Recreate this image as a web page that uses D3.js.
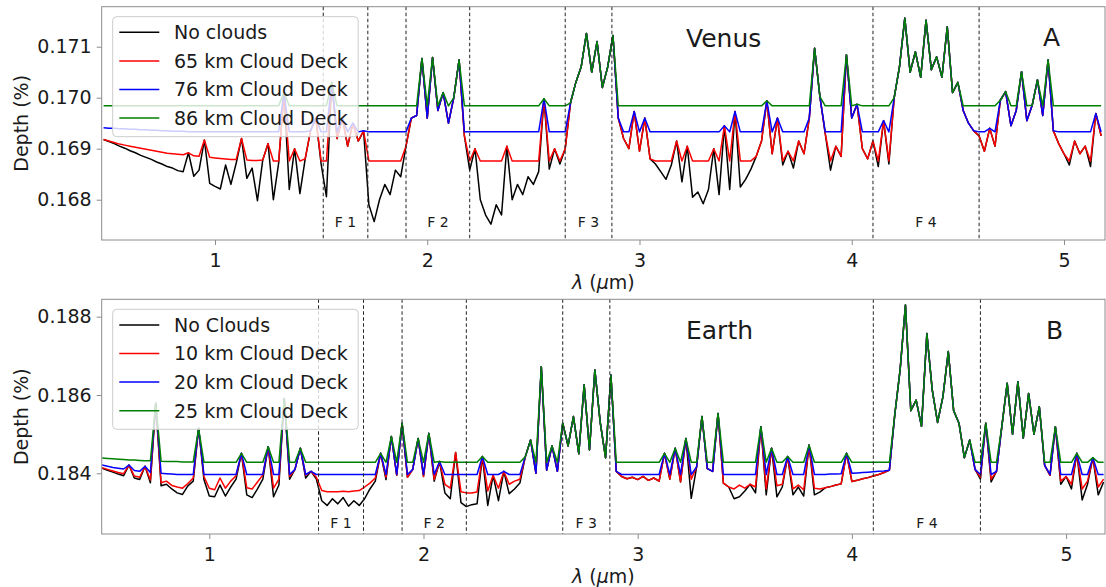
<!DOCTYPE html>
<html>
<head>
<meta charset="utf-8">
<script src="https://cdn.jsdelivr.net/npm/d3@7"></script>
<style>
body { margin: 0; background: #fff; }
svg text { font-family: "DejaVu Sans", sans-serif; fill: #1a1a1a; }
</style>
</head>
<body>
<svg width="1106" height="587"></svg>
<script>
// wavelength sampling of the spectra (micron)
var venusStart = 0.475, earthStart = 0.5, waveStep = 0.025;

// feature bands F1..F4 (micron)
var featureBands = [[1.51, 1.72], [1.9, 2.2], [2.65, 2.87], [4.1, 4.6]];
var featureLabels = ["F 1", "F 2", "F 3", "F 4"];
var xTicks = [1, 2, 3, 4, 5];

// ---- Venus, transit depth (%) ----
var venusLabels = ["No clouds", "65 km Cloud Deck", "76 km Cloud Deck", "86 km Cloud Deck"];
var venusTicks = [0.168, 0.169, 0.170, 0.171];

var venusNoClouds = [
0.16918,0.16914,0.16910,0.16905,0.16901,0.16896,0.16892,0.16887,0.16883,0.16879,
0.16874,0.16870,0.16865,0.16862,0.16857,0.16855,0.16892,0.16846,0.16858,0.16917,
0.16832,0.16826,0.16821,0.16868,0.16830,0.16872,0.16920,0.16842,0.16862,0.16798,
0.16878,0.16910,0.16800,0.16872,0.17010,0.16820,0.16900,0.16812,0.16880,0.16935,
0.16960,0.16870,0.16806,0.17030,0.16920,0.16960,0.16905,0.16950,0.16915,0.16935,
0.16790,0.16757,0.16800,0.16830,0.16810,0.16858,0.16845,0.16905,0.16960,0.16965,
0.17077,0.16960,0.17079,0.16975,0.17010,0.16950,0.17000,0.17074,0.16925,0.16858,
0.16900,0.16800,0.16770,0.16752,0.16790,0.16770,0.16905,0.16800,0.16830,0.16810,
0.16845,0.16830,0.16855,0.16998,0.16860,0.16900,0.16870,0.16900,0.16990,0.17030,
0.17060,0.17126,0.17050,0.17110,0.17020,0.17060,0.17122,0.16960,0.16920,0.16900,
0.16973,0.16895,0.16960,0.16880,0.16870,0.16855,0.16840,0.16868,0.16915,0.16835,
0.16905,0.16805,0.16815,0.16792,0.16820,0.16900,0.16810,0.16945,0.16820,0.16973,
0.16825,0.16840,0.16860,0.16885,0.16915,0.16994,0.16890,0.16960,0.16868,0.16895,
0.16862,0.16915,0.16890,0.16960,0.17097,0.17002,0.16930,0.16858,0.16905,0.16885,
0.17084,0.16960,0.16987,0.16900,0.16880,0.16915,0.16865,0.16955,0.16870,0.17000,
0.17061,0.17156,0.17050,0.17090,0.17040,0.17152,0.17055,0.17080,0.17040,0.17139,
0.17010,0.17030,0.16975,0.16950,0.16935,0.16925,0.16895,0.16940,0.16905,0.16995,
0.17012,0.16945,0.16975,0.17051,0.16955,0.16985,0.17035,0.16965,0.17074,0.16935,
0.16910,0.16890,0.16868,0.16915,0.16890,0.16905,0.16865,0.16969,0.16925
];

var venus65km = [
0.16918,0.16915,0.16912,0.16909,0.16907,0.16905,0.16903,0.16901,0.16899,0.16897,
0.16895,0.16893,0.16891,0.16890,0.16889,0.16888,0.16892,0.16886,0.16885,0.16917,
0.16883,0.16882,0.16881,0.16880,0.16879,0.16879,0.16920,0.16878,0.16877,0.16877,
0.16878,0.16910,0.16876,0.16876,0.17010,0.16876,0.16900,0.16876,0.16880,0.16935,
0.16960,0.16876,0.16876,0.17030,0.16920,0.16960,0.16905,0.16950,0.16915,0.16935,
0.16876,0.16876,0.16876,0.16876,0.16876,0.16876,0.16876,0.16905,0.16960,0.16965,
0.17077,0.16960,0.17079,0.16975,0.17010,0.16950,0.17000,0.17074,0.16925,0.16876,
0.16900,0.16876,0.16876,0.16876,0.16876,0.16876,0.16905,0.16876,0.16876,0.16876,
0.16876,0.16876,0.16876,0.16998,0.16876,0.16900,0.16876,0.16900,0.16990,0.17030,
0.17060,0.17126,0.17050,0.17110,0.17020,0.17060,0.17122,0.16960,0.16920,0.16900,
0.16973,0.16895,0.16960,0.16880,0.16876,0.16876,0.16876,0.16876,0.16915,0.16876,
0.16905,0.16876,0.16876,0.16876,0.16876,0.16900,0.16876,0.16945,0.16876,0.16973,
0.16876,0.16876,0.16876,0.16885,0.16915,0.16994,0.16890,0.16960,0.16876,0.16895,
0.16876,0.16915,0.16890,0.16960,0.17097,0.17002,0.16930,0.16876,0.16905,0.16885,
0.17084,0.16960,0.16987,0.16900,0.16880,0.16915,0.16876,0.16955,0.16876,0.17000,
0.17061,0.17156,0.17050,0.17090,0.17040,0.17152,0.17055,0.17080,0.17040,0.17139,
0.17010,0.17030,0.16975,0.16950,0.16935,0.16925,0.16895,0.16940,0.16905,0.16995,
0.17012,0.16945,0.16975,0.17051,0.16955,0.16985,0.17035,0.16965,0.17074,0.16935,
0.16910,0.16890,0.16876,0.16915,0.16890,0.16905,0.16876,0.16969,0.16925
];

var venus76km = [
0.16941,0.16940,0.16940,0.16939,0.16939,0.16938,0.16938,0.16937,0.16937,0.16936,
0.16936,0.16935,0.16935,0.16934,0.16934,0.16934,0.16933,0.16933,0.16933,0.16933,
0.16933,0.16933,0.16933,0.16933,0.16933,0.16933,0.16933,0.16933,0.16933,0.16933,
0.16933,0.16933,0.16933,0.16933,0.17010,0.16933,0.16933,0.16933,0.16933,0.16935,
0.16960,0.16933,0.16933,0.17030,0.16933,0.16960,0.16933,0.16950,0.16933,0.16935,
0.16933,0.16933,0.16933,0.16933,0.16933,0.16933,0.16933,0.16933,0.16960,0.16965,
0.17077,0.16960,0.17079,0.16975,0.17010,0.16950,0.17000,0.17074,0.16933,0.16933,
0.16933,0.16933,0.16933,0.16933,0.16933,0.16933,0.16933,0.16933,0.16933,0.16933,
0.16933,0.16933,0.16933,0.16998,0.16933,0.16933,0.16933,0.16933,0.16990,0.17030,
0.17060,0.17126,0.17050,0.17110,0.17020,0.17060,0.17122,0.16960,0.16933,0.16933,
0.16973,0.16933,0.16960,0.16933,0.16933,0.16933,0.16933,0.16933,0.16933,0.16933,
0.16933,0.16933,0.16933,0.16933,0.16933,0.16933,0.16933,0.16945,0.16933,0.16973,
0.16933,0.16933,0.16933,0.16933,0.16933,0.16994,0.16933,0.16960,0.16933,0.16933,
0.16933,0.16933,0.16933,0.16960,0.17097,0.17002,0.16933,0.16933,0.16933,0.16933,
0.17084,0.16960,0.16987,0.16933,0.16933,0.16933,0.16933,0.16955,0.16933,0.17000,
0.17061,0.17156,0.17050,0.17090,0.17040,0.17152,0.17055,0.17080,0.17040,0.17139,
0.17010,0.17030,0.16975,0.16950,0.16935,0.16933,0.16933,0.16940,0.16933,0.16995,
0.17012,0.16945,0.16975,0.17051,0.16955,0.16985,0.17035,0.16965,0.17074,0.16935,
0.16933,0.16933,0.16933,0.16933,0.16933,0.16933,0.16933,0.16969,0.16933
];

var venus86km = [
0.16984,0.16984,0.16984,0.16984,0.16984,0.16984,0.16984,0.16984,0.16984,0.16984,
0.16984,0.16984,0.16984,0.16984,0.16984,0.16984,0.16984,0.16984,0.16984,0.16984,
0.16984,0.16984,0.16984,0.16984,0.16984,0.16984,0.16984,0.16984,0.16984,0.16984,
0.16984,0.16984,0.16984,0.16984,0.17010,0.16984,0.16984,0.16984,0.16984,0.16984,
0.16984,0.16984,0.16984,0.17030,0.16984,0.16984,0.16984,0.16984,0.16984,0.16984,
0.16984,0.16984,0.16984,0.16984,0.16984,0.16984,0.16984,0.16984,0.16984,0.16984,
0.17077,0.16984,0.17079,0.16984,0.17010,0.16984,0.17000,0.17074,0.16984,0.16984,
0.16984,0.16984,0.16984,0.16984,0.16984,0.16984,0.16984,0.16984,0.16984,0.16984,
0.16984,0.16984,0.16984,0.16998,0.16984,0.16984,0.16984,0.16984,0.16990,0.17030,
0.17060,0.17126,0.17050,0.17110,0.17020,0.17060,0.17122,0.16984,0.16984,0.16984,
0.16984,0.16984,0.16984,0.16984,0.16984,0.16984,0.16984,0.16984,0.16984,0.16984,
0.16984,0.16984,0.16984,0.16984,0.16984,0.16984,0.16984,0.16984,0.16984,0.16984,
0.16984,0.16984,0.16984,0.16984,0.16984,0.16994,0.16984,0.16984,0.16984,0.16984,
0.16984,0.16984,0.16984,0.16984,0.17097,0.17002,0.16984,0.16984,0.16984,0.16984,
0.17084,0.16984,0.16987,0.16984,0.16984,0.16984,0.16984,0.16984,0.16984,0.17000,
0.17061,0.17156,0.17050,0.17090,0.17040,0.17152,0.17055,0.17080,0.17040,0.17139,
0.17010,0.17030,0.16984,0.16984,0.16984,0.16984,0.16984,0.16984,0.16984,0.16995,
0.17012,0.16984,0.16984,0.17051,0.16984,0.16985,0.17035,0.16984,0.17074,0.16984,
0.16984,0.16984,0.16984,0.16984,0.16984,0.16984,0.16984,0.16984,0.16984
];

// ---- Earth, transit depth (%) ----
var earthLabels = ["No Clouds", "10 km Cloud Deck", "20 km Cloud Deck", "25 km Cloud Deck"];
var earthTicks = [0.184, 0.186, 0.188];

var earthNoClouds = [
0.18413,0.18408,0.18403,0.18398,0.18394,0.18421,0.18388,0.18384,0.18418,0.18376,
0.18579,0.18368,0.18372,0.18360,0.18350,0.18346,0.18368,0.18380,0.18515,0.18384,
0.18342,0.18340,0.18370,0.18342,0.18365,0.18385,0.18451,0.18345,0.18338,0.18360,
0.18385,0.18468,0.18340,0.18370,0.18591,0.18385,0.18410,0.18464,0.18388,0.18405,
0.18385,0.18330,0.18318,0.18335,0.18322,0.18338,0.18316,0.18330,0.18318,0.18335,
0.18360,0.18380,0.18451,0.18384,0.18494,0.18395,0.18528,0.18390,0.18410,0.18489,
0.18392,0.18502,0.18380,0.18430,0.18350,0.18335,0.18453,0.18325,0.18315,0.18320,
0.18322,0.18443,0.18318,0.18395,0.18330,0.18405,0.18348,0.18360,0.18375,0.18442,
0.18485,0.18400,0.18672,0.18408,0.18470,0.18405,0.18528,0.18470,0.18545,0.18450,
0.18626,0.18460,0.18664,0.18530,0.18440,0.18651,0.18405,0.18392,0.18386,0.18390,
0.18384,0.18392,0.18382,0.18388,0.18380,0.18451,0.18385,0.18464,0.18378,0.18489,
0.18336,0.18416,0.18545,0.18412,0.18405,0.18553,0.18375,0.18365,0.18335,0.18340,
0.18355,0.18372,0.18350,0.18519,0.18345,0.18464,0.18340,0.18365,0.18443,0.18345,
0.18365,0.18342,0.18472,0.18345,0.18352,0.18363,0.18366,0.18370,0.18373,0.18451,
0.18379,0.18382,0.18386,0.18389,0.18393,0.18397,0.18402,0.18408,0.18549,0.18664,
0.18830,0.18560,0.18587,0.18520,0.18757,0.18613,0.18530,0.18596,0.18711,0.18560,
0.18528,0.18440,0.18485,0.18410,0.18385,0.18528,0.18378,0.18405,0.18520,0.18630,
0.18500,0.18634,0.18490,0.18604,0.18500,0.18570,0.18420,0.18395,0.18519,0.18372,
0.18392,0.18360,0.18451,0.18332,0.18372,0.18440,0.18345,0.18378
];

var earth10km = [
0.18414,0.18410,0.18406,0.18402,0.18399,0.18421,0.18393,0.18390,0.18418,0.18383,
0.18579,0.18376,0.18380,0.18369,0.18365,0.18362,0.18374,0.18388,0.18515,0.18392,
0.18362,0.18358,0.18388,0.18362,0.18380,0.18394,0.18451,0.18363,0.18360,0.18378,
0.18396,0.18468,0.18362,0.18385,0.18591,0.18392,0.18410,0.18464,0.18395,0.18405,
0.18390,0.18356,0.18353,0.18353,0.18353,0.18354,0.18353,0.18355,0.18356,0.18365,
0.18375,0.18388,0.18451,0.18390,0.18494,0.18395,0.18528,0.18390,0.18410,0.18489,
0.18392,0.18502,0.18384,0.18430,0.18372,0.18362,0.18453,0.18353,0.18350,0.18350,
0.18352,0.18443,0.18355,0.18395,0.18362,0.18405,0.18372,0.18380,0.18385,0.18442,
0.18485,0.18400,0.18672,0.18408,0.18470,0.18405,0.18528,0.18470,0.18545,0.18450,
0.18626,0.18460,0.18664,0.18530,0.18440,0.18651,0.18405,0.18392,0.18386,0.18390,
0.18384,0.18392,0.18382,0.18388,0.18380,0.18451,0.18385,0.18464,0.18378,0.18489,
0.18385,0.18416,0.18545,0.18412,0.18405,0.18553,0.18375,0.18365,0.18360,0.18370,
0.18362,0.18372,0.18365,0.18519,0.18360,0.18464,0.18368,0.18372,0.18443,0.18360,
0.18370,0.18358,0.18472,0.18362,0.18360,0.18363,0.18366,0.18370,0.18373,0.18451,
0.18379,0.18382,0.18386,0.18389,0.18393,0.18397,0.18402,0.18408,0.18549,0.18664,
0.18830,0.18560,0.18587,0.18520,0.18757,0.18613,0.18530,0.18596,0.18711,0.18560,
0.18528,0.18440,0.18485,0.18410,0.18390,0.18528,0.18385,0.18405,0.18520,0.18630,
0.18500,0.18634,0.18490,0.18604,0.18500,0.18570,0.18420,0.18395,0.18519,0.18380,
0.18392,0.18372,0.18451,0.18360,0.18380,0.18440,0.18365,0.18385
];

var earth20km = [
0.18421,0.18418,0.18415,0.18413,0.18411,0.18421,0.18407,0.18405,0.18418,0.18402,
0.18579,0.18400,0.18399,0.18398,0.18397,0.18397,0.18397,0.18397,0.18515,0.18397,
0.18397,0.18397,0.18397,0.18397,0.18397,0.18397,0.18451,0.18397,0.18397,0.18397,
0.18397,0.18468,0.18397,0.18397,0.18591,0.18397,0.18410,0.18464,0.18397,0.18405,
0.18397,0.18397,0.18397,0.18397,0.18397,0.18397,0.18397,0.18397,0.18397,0.18397,
0.18397,0.18397,0.18451,0.18397,0.18494,0.18397,0.18528,0.18397,0.18410,0.18489,
0.18397,0.18502,0.18397,0.18430,0.18397,0.18397,0.18397,0.18397,0.18397,0.18397,
0.18397,0.18443,0.18397,0.18397,0.18397,0.18405,0.18397,0.18397,0.18397,0.18442,
0.18485,0.18400,0.18672,0.18408,0.18470,0.18405,0.18528,0.18470,0.18545,0.18450,
0.18626,0.18460,0.18664,0.18530,0.18440,0.18651,0.18405,0.18397,0.18397,0.18397,
0.18397,0.18397,0.18397,0.18397,0.18397,0.18451,0.18397,0.18464,0.18397,0.18489,
0.18397,0.18416,0.18545,0.18412,0.18405,0.18553,0.18397,0.18397,0.18397,0.18397,
0.18397,0.18397,0.18397,0.18519,0.18397,0.18464,0.18397,0.18397,0.18443,0.18397,
0.18397,0.18397,0.18472,0.18397,0.18397,0.18397,0.18398,0.18398,0.18399,0.18451,
0.18400,0.18401,0.18402,0.18403,0.18404,0.18405,0.18406,0.18408,0.18549,0.18664,
0.18830,0.18560,0.18587,0.18520,0.18757,0.18613,0.18530,0.18596,0.18711,0.18560,
0.18528,0.18440,0.18485,0.18410,0.18397,0.18528,0.18397,0.18405,0.18520,0.18630,
0.18500,0.18634,0.18490,0.18604,0.18500,0.18570,0.18420,0.18397,0.18519,0.18397,
0.18397,0.18397,0.18451,0.18397,0.18397,0.18440,0.18397,0.18397
];

var earth25km = [
0.18439,0.18438,0.18437,0.18436,0.18435,0.18434,0.18434,0.18433,0.18432,0.18432,
0.18579,0.18431,0.18430,0.18430,0.18430,0.18429,0.18429,0.18429,0.18515,0.18428,
0.18428,0.18428,0.18428,0.18428,0.18428,0.18428,0.18451,0.18428,0.18428,0.18428,
0.18428,0.18468,0.18428,0.18428,0.18591,0.18428,0.18428,0.18464,0.18428,0.18428,
0.18428,0.18428,0.18428,0.18428,0.18428,0.18428,0.18428,0.18428,0.18428,0.18428,
0.18428,0.18428,0.18451,0.18428,0.18494,0.18428,0.18528,0.18428,0.18428,0.18489,
0.18428,0.18502,0.18428,0.18430,0.18428,0.18428,0.18428,0.18428,0.18428,0.18428,
0.18428,0.18443,0.18428,0.18428,0.18428,0.18428,0.18428,0.18428,0.18428,0.18442,
0.18485,0.18428,0.18672,0.18428,0.18470,0.18428,0.18528,0.18470,0.18545,0.18450,
0.18626,0.18460,0.18664,0.18530,0.18440,0.18651,0.18428,0.18428,0.18428,0.18428,
0.18428,0.18428,0.18428,0.18428,0.18428,0.18451,0.18428,0.18464,0.18428,0.18489,
0.18428,0.18428,0.18545,0.18428,0.18428,0.18553,0.18428,0.18428,0.18428,0.18428,
0.18428,0.18428,0.18428,0.18519,0.18428,0.18464,0.18428,0.18428,0.18443,0.18428,
0.18428,0.18428,0.18472,0.18428,0.18428,0.18428,0.18428,0.18428,0.18428,0.18451,
0.18428,0.18428,0.18428,0.18428,0.18428,0.18428,0.18428,0.18428,0.18549,0.18664,
0.18830,0.18560,0.18587,0.18520,0.18757,0.18613,0.18530,0.18596,0.18711,0.18560,
0.18528,0.18440,0.18485,0.18428,0.18428,0.18528,0.18428,0.18428,0.18520,0.18630,
0.18500,0.18634,0.18490,0.18604,0.18500,0.18570,0.18428,0.18428,0.18519,0.18428,
0.18428,0.18428,0.18451,0.18428,0.18428,0.18440,0.18428,0.18428
];

var colors = ["#000000", "#ff0000", "#0000ff", "#008000"];

var svg = d3.select("svg");
var plotLeft = 101.7, plotRight = 1105;

var panels = [
  { id: "venus", top: 6.7, bottom: 240, xDomain: [0.4662, 5.1932], yDomain: [0.16721, 0.171784],
    yTicks: venusTicks, yFormat: ".3f", start: venusStart,
    series: [venusNoClouds, venus65km, venus76km, venus86km], labels: venusLabels,
    name: "Venus", letter: "A", letterX: 1043, featY: 0.167465 },
  { id: "earth", top: 299.3, bottom: 534, xDomain: [0.4977, 5.1816], yDomain: [0.18245, 0.188444],
    yTicks: earthTicks, yFormat: ".3f", start: earthStart,
    series: [earthNoClouds, earth10km, earth20km, earth25km], labels: earthLabels,
    name: "Earth", letter: "B", letterX: 1046, featY: 0.182603 }
];

panels.forEach(drawPanel);

function drawPanel(p) {
  var x = d3.scaleLinear().domain(p.xDomain).range([plotLeft, plotRight]);
  var y = d3.scaleLinear().domain(p.yDomain).range([p.bottom, p.top]);
  var g = svg.append("g").attr("id", p.id);

  g.append("clipPath").attr("id", "clip-" + p.id)
    .append("rect")
    .attr("x", plotLeft).attr("y", p.top)
    .attr("width", plotRight - plotLeft).attr("height", p.bottom - p.top);

  // spectra, black first, green on top
  var line = d3.line()
    .x(function(d, i) { return x(p.start + i * waveStep); })
    .y(function(d) { return y(d); });

  var lines = g.append("g").attr("clip-path", "url(#clip-" + p.id + ")");
  p.series.forEach(function(s, k) {
    lines.append("path")
      .datum(s)
      .attr("d", line)
      .attr("fill", "none")
      .attr("stroke", colors[k])
      .attr("stroke-width", 1.5)
      .attr("stroke-linejoin", "round");
  });

  // feature band edges
  featureBands.forEach(function(b, k) {
    b.forEach(function(w) {
      g.append("line")
        .attr("x1", x(w)).attr("x2", x(w))
        .attr("y1", p.top).attr("y2", p.bottom)
        .attr("stroke", "#222")
        .attr("stroke-width", 1)
        .attr("stroke-dasharray", "3.5,2.5");
    });
    g.append("text")
      .attr("x", x((b[0] + b[1]) / 2))
      .attr("y", y(p.featY))
      .attr("text-anchor", "middle")
      .attr("font-size", "14px")
      .text(featureLabels[k]);
  });

  // frame
  g.append("rect")
    .attr("x", plotLeft).attr("y", p.top)
    .attr("width", plotRight - plotLeft).attr("height", p.bottom - p.top)
    .attr("fill", "none")
    .attr("stroke", "#8c8c8c")
    .attr("stroke-width", 1);

  // x axis
  var xa = g.append("g")
    .attr("transform", "translate(0," + p.bottom + ")")
    .call(d3.axisBottom(x).tickValues(xTicks).tickFormat(d3.format("d")).tickSize(5).tickPadding(9));
  // y axis
  var ya = g.append("g")
    .attr("transform", "translate(" + plotLeft + ",0)")
    .call(d3.axisLeft(y).tickValues(p.yTicks).tickFormat(d3.format(p.yFormat)).tickSize(5).tickPadding(5));

  [xa, ya].forEach(function(a) {
    a.select(".domain").remove();
    a.selectAll(".tick line").attr("stroke", "#8c8c8c");
    a.selectAll(".tick text").attr("font-size", "19px").attr("font-family", "DejaVu Sans").attr("fill", "#1a1a1a");
  });

  // axis titles
  var xl = g.append("text")
    .attr("x", (plotLeft + plotRight) / 2)
    .attr("y", p.bottom + 49)
    .attr("text-anchor", "middle")
    .attr("font-size", "19px");
  xl.append("tspan").attr("font-style", "italic").text("λ");
  xl.append("tspan").text(" (");
  xl.append("tspan").attr("font-style", "italic").text("µ");
  xl.append("tspan").text("m)");

  g.append("text")
    .attr("transform", "translate(28," + ((p.top + p.bottom) / 2) + ") rotate(-90)")
    .attr("text-anchor", "middle")
    .attr("font-size", "19px")
    .text("Depth (%)");

  // planet name and panel letter
  g.append("text").attr("x", 686).attr("y", p.top + 40).attr("font-size", "25px").text(p.name);
  g.append("text").attr("x", p.letterX).attr("y", p.top + 39.5).attr("font-size", "25px").text(p.letter);

  // legend
  var lg = g.append("g").attr("transform", "translate(112.7," + (p.top + 10) + ")");
  lg.append("rect")
    .attr("width", 245.5).attr("height", 120)
    .attr("rx", 4)
    .attr("fill", "#fff").attr("fill-opacity", 0.8)
    .attr("stroke", "#cccccc");
  p.labels.forEach(function(lab, k) {
    var ly = 15.6 + k * 28.6;
    lg.append("line")
      .attr("x1", 6.6).attr("x2", 46.6)
      .attr("y1", ly).attr("y2", ly)
      .attr("stroke", colors[k]).attr("stroke-width", 1.5);
    lg.append("text")
      .attr("x", 61.3).attr("y", ly + 6.9)
      .attr("font-size", "19px")
      .text(lab);
  });
}
</script>
</body>
</html>
